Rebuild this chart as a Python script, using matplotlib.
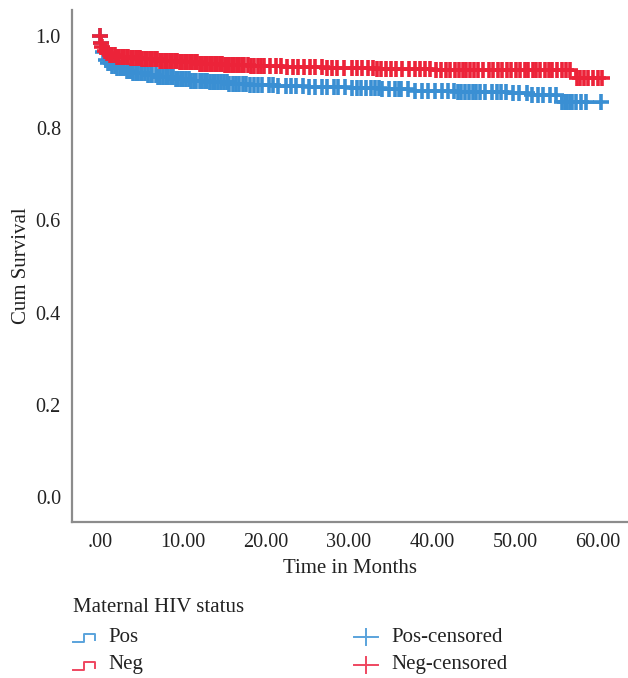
import numpy as np
import matplotlib.pyplot as plt

plt.rcParams['font.family'] = ['Liberation Serif', 'DejaVu Serif']

BLUE = '#3a8fd3'
RED = '#ec2339'
BLUE_L = '#5aa3dc'
RED_L = '#ef4660'

# Kaplan-Meier step curves (time in months, cumulative survival)
pos_times = [0, 0.1, 0.2, 0.3, 0.5, 0.7, 1.0, 1.5, 2.0, 3.0, 4.0, 5.5, 7.0, 9.0,
             11.0, 13.0, 15.5, 18.0, 21.0, 25.0, 30.0, 34.0, 38.0, 43.0, 49.0, 52.0, 55.5]
pos_surv = [1.0, 0.985, 0.975, 0.965, 0.955, 0.948, 0.942, 0.935, 0.930, 0.924, 0.919,
            0.915, 0.911, 0.907, 0.903, 0.900, 0.896, 0.893, 0.891, 0.889, 0.887, 0.884,
            0.881, 0.878, 0.875, 0.872, 0.857]

neg_times = [0, 0.1, 0.2, 0.4, 0.7, 1.0, 2.0, 3.5, 5.0, 7.0, 9.5, 12.0, 15.0, 18.0,
             22.0, 27.0, 33.0, 40.0, 48.0, 57.2]
neg_surv = [1.0, 0.985, 0.975, 0.967, 0.962, 0.959, 0.955, 0.952, 0.949, 0.946, 0.943,
            0.940, 0.937, 0.935, 0.933, 0.931, 0.929, 0.927, 0.925, 0.909]

# censored observations (months)
pos_cens = [0.0, 0.15, 0.4, 0.7, 1.0, 1.3, 1.5, 1.8, 2.1, 2.4, 2.6, 2.9, 3.2, 3.5, 3.7, 4.0,
            4.3, 4.6, 4.9, 5.1, 5.4, 5.8, 6.1, 6.3, 6.7, 7.0, 7.2, 7.6, 7.9, 8.2, 8.5,
            8.8, 9.1, 9.4, 9.7, 10.0, 10.4, 10.7, 11.0, 11.3, 11.6, 12.0, 12.3, 12.6,
            12.9, 13.3, 13.6, 13.9, 14.2, 14.6, 14.9, 15.3, 15.6, 16.0, 16.4, 16.8,
            17.2, 17.6, 18.1, 18.6, 19.0, 19.5, 20.3, 20.8, 21.5, 22.4, 23.0, 23.6,
            24.5, 25.2, 25.9, 26.8, 27.3, 28.2, 28.7, 29.5, 30.4, 31.0, 31.5, 32.0,
            32.6, 33.1, 33.6, 34.0, 34.8, 35.5, 36.0, 36.3, 37.1, 38.0, 38.8, 39.5,
            40.3, 41.2, 41.9, 42.6, 43.1, 43.5, 44.0, 44.4, 44.9, 45.3, 45.8, 46.4,
            47.2, 47.8, 48.3, 48.9, 49.7, 50.5, 51.4, 52.0, 52.7, 53.4, 54.2, 54.9,
            55.7, 56.0, 56.3, 56.6, 56.9, 57.3, 57.9, 58.6, 60.3]
neg_cens = [0.0, 0.15, 0.3, 0.6, 0.9, 1.2, 1.5, 1.8, 2.0, 2.3, 2.6, 2.9, 3.2, 3.4, 3.7, 4.0,
            4.3, 4.6, 4.8, 5.1, 5.4, 5.7, 6.0, 6.3, 6.6, 6.9, 7.2, 7.5, 7.8, 8.1, 8.4,
            8.7, 9.0, 9.3, 9.6, 9.9, 10.2, 10.5, 10.8, 11.1, 11.4, 11.7, 12.0, 12.3,
            12.6, 12.9, 13.2, 13.5, 13.8, 14.1, 14.4, 14.7, 15.0, 15.3, 15.6, 15.9,
            16.2, 16.5, 16.8, 17.1, 17.4, 17.8, 18.2, 18.6, 19.0, 19.4, 19.8, 20.5,
            21.2, 21.8, 22.5, 23.3, 23.9, 24.6, 25.3, 25.9, 26.7, 27.4, 28.0, 28.6,
            29.4, 30.3, 31.0, 31.6, 32.3, 32.9, 33.4, 33.9, 34.4, 35.1, 35.6, 36.4,
            37.2, 37.9, 38.6, 39.2, 39.8, 40.5, 41.1, 41.7, 42.2, 42.8, 43.3, 43.7,
            44.1, 44.6, 45.0, 45.5, 46.1, 46.8, 47.3, 47.9, 48.4, 49.0, 49.5, 50.1,
            50.6, 51.2, 51.6, 52.1, 52.5, 53.0, 53.6, 54.1, 54.5, 55.0, 55.6, 56.1,
            56.6, 57.4, 57.8, 58.3, 58.8, 59.4, 60.0, 60.5]

x_ticks = [0, 10, 20, 30, 40, 50, 60]
x_labels = ['.00', '10.00', '20.00', '30.00', '40.00', '50.00', '60.00']
y_ticks = [0.0, 0.2, 0.4, 0.6, 0.8, 1.0]


def surv_at(times, surv, t):
    idx = np.searchsorted(np.array(times), np.array(t), side='right') - 1
    return np.array(surv)[idx]


fig = plt.figure(figsize=(6.28, 6.78), dpi=100)
ax = fig.add_axes([72 / 628, 156 / 678, 1 - 72 / 628, (522 - 10) / 678])

for times, surv, cens, col in [(pos_times, pos_surv, pos_cens, BLUE),
                               (neg_times, neg_surv, neg_cens, RED)]:
    t_all = list(times) + [max(cens)]
    s_all = list(surv) + [surv[-1]]
    ax.step(t_all, s_all, where='post', color=col, lw=2, zorder=2)
    ax.plot(cens, surv_at(times, surv, cens), ls='none', marker='+', ms=11,
            mew=2.6, color=col, zorder=3)

ax.set_xlim(-3.37, 63.6)
ax.set_ylim(-0.054, 1.056)
ax.set_xticks(x_ticks)
ax.set_xticklabels(x_labels)
ax.set_yticks(y_ticks)
ax.tick_params(length=0, labelsize=14.5, colors='#222222', pad=8)
for s in ['top', 'right']:
    ax.spines[s].set_visible(False)
for s in ['left', 'bottom']:
    ax.spines[s].set_color('#8c8c8c')
    ax.spines[s].set_linewidth(1.6)
ax.set_xlabel('Time in Months', fontsize=15, color='#222222', labelpad=5)
ax.set_ylabel('Cum Survival', fontsize=15, color='#222222', labelpad=3)

# legend below the plot, drawn in pixel layout coordinates
lg = fig.add_axes([0, 0, 1, 1], zorder=-1)
lg.set_xlim(0, 628)
lg.set_ylim(678, 0)
lg.axis('off')
lg.text(73, 608, 'Maternal HIV status', fontsize=15, va='center', ha='left', color='#222222')
for yc, col, lab in [(637, BLUE_L, 'Pos'), (665, RED_L, 'Neg')]:
    lg.plot([73, 84, 84, 95, 95], [yc + 5, yc + 5, yc - 3, yc - 3, yc + 3],
            color=col, lw=1.4)
    lg.text(108, yc, lab, fontsize=15, va='center', ha='left', color='#222222')
for yc, col, lab in [(637, BLUE_L, 'Pos-censored'), (665, RED_L, 'Neg-censored')]:
    lg.plot([354, 378], [yc, yc], color=col, lw=1.4)
    lg.plot([366, 366], [yc - 8, yc + 8], color=col, lw=1.4)
    lg.text(391, yc, lab, fontsize=15, va='center', ha='left', color='#222222')

fig.savefig('out.png', dpi=100)
